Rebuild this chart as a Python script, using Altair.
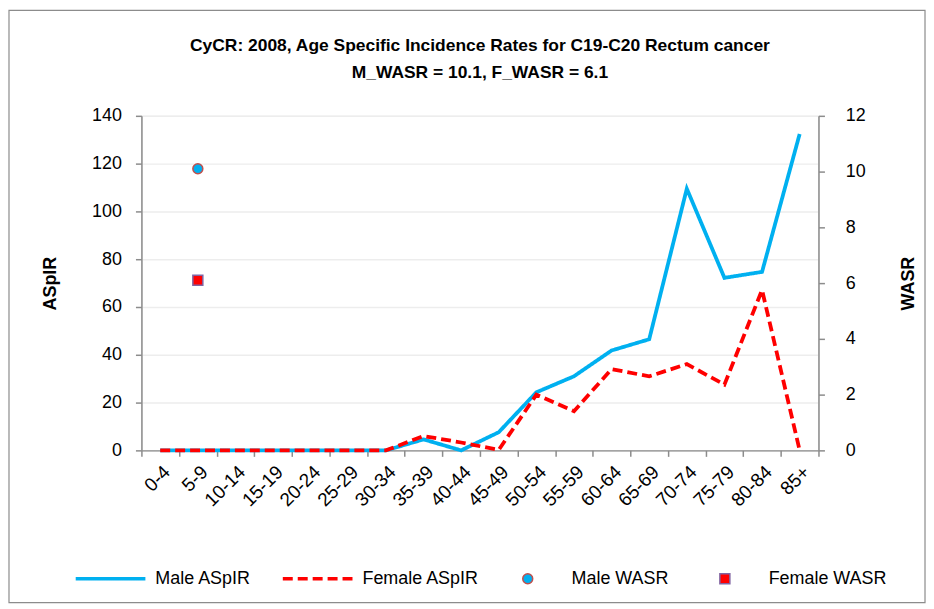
import altair as alt
import pandas as pd

ages = ["0-4", "5-9", "10-14", "15-19", "20-24", "25-29", "30-34", "35-39", "40-44",
        "45-49", "50-54", "55-59", "60-64", "65-69", "70-74", "75-79", "80-84", "85+"]
male_aspir = [0, 0, 0, 0, 0, 0, 0, 4.6, 0, 7.6, 24.3, 31.0, 41.8, 46.5, 109.5, 72.2, 74.7, 132.4]
female_aspir = [0, 0, 0, 0, 0, 0, 0, 6.0, 3.3, 0.2, 23.3, 16.4, 34.0, 31.0, 36.1, 27.5, 67.1, 0]
wasr_series = ["Male WASR", "Female WASR"]
wasr_values = [10.1, 6.1]
wasr_age = "5-9"

line_domain = ["Male ASpIR", "Female ASpIR"]

male_df = pd.DataFrame({"age": ages, "value": male_aspir, "series": "Male ASpIR"})
female_df = pd.DataFrame({"age": ages, "value": female_aspir, "series": "Female ASpIR"})
pts_df = pd.DataFrame({"age": [wasr_age] * 2, "value": wasr_values, "wseries": wasr_series})

FONT = "Liberation Sans"

x_enc = alt.X("age:N", sort=ages, title=None,
              scale=alt.Scale(type="band", domain=ages, paddingInner=0, paddingOuter=0),
              axis=alt.Axis(labelAngle=-45, labelFontSize=19, labelFont=FONT, labelColor="#000000",
                            tickBand="extent", domainColor="#8C8C8C", domainWidth=1.5,
                            tickColor="#8C8C8C", tickWidth=1.5, tickSize=6, labelPadding=6,
                            grid=False))

y_left = alt.Y("value:Q", title="ASpIR",
               scale=alt.Scale(domain=[0, 140], nice=False),
               axis=alt.Axis(values=list(range(0, 141, 20)), orient="left", labelFontSize=18,
                             labelFont=FONT, labelColor="#000000", titleFont=FONT,
                             titleFontSize=18, titleFontWeight="bold", titleColor="#000000",
                             titlePadding=32, domainColor="#8C8C8C", domainWidth=1.5,
                             tickColor="#8C8C8C", tickWidth=1.5, tickSize=6, labelPadding=14,
                             grid=True, gridColor="#EDEDED", gridWidth=1.5))

color_scale = alt.Scale(domain=line_domain, range=["#00B0F0", "#FF0000"])
dash_scale = alt.Scale(domain=line_domain, range=[[1, 0], [10, 5]])
line_legend = alt.Legend(orient="none", legendX=-68, legendY=428, direction="horizontal",
                         title=None, symbolType="stroke", symbolSize=4900, symbolStrokeWidth=3.5,
                         labelFontSize=18, labelFont=FONT, labelColor="#000000",
                         labelOffset=8, columnPadding=24)

male_line = alt.Chart(male_df).mark_line(strokeWidth=3.8, strokeCap="butt").encode(
    x=x_enc, y=y_left,
    color=alt.Color("series:N", scale=color_scale, legend=line_legend),
    strokeDash=alt.StrokeDash("series:N", scale=dash_scale, legend=line_legend),
)
female_line = alt.Chart(female_df).mark_line(strokeWidth=3.8, strokeCap="butt").encode(
    x=x_enc, y=y_left,
    color=alt.Color("series:N", scale=color_scale, legend=line_legend),
    strokeDash=alt.StrokeDash("series:N", scale=dash_scale, legend=line_legend),
)

lines = alt.layer(male_line, female_line)

pt_legend = alt.Legend(orient="none", legendX=379, legendY=456, direction="horizontal",
                       title=None, symbolSize=100, symbolStrokeWidth=1.5,
                       labelFontSize=18, labelFont=FONT, labelColor="#000000",
                       labelOffset=35, columnPadding=47)

points = alt.Chart(pts_df).mark_point(filled=True, size=100, strokeWidth=1.5, opacity=1).encode(
    x=x_enc,
    y=alt.Y("value:Q", title="WASR",
            scale=alt.Scale(domain=[0, 12], nice=False),
            axis=alt.Axis(values=list(range(0, 13, 2)), orient="right", labelFontSize=18,
                          labelFont=FONT, labelColor="#000000", titleFont=FONT,
                          titleFontSize=18, titleFontWeight="bold", titleColor="#000000",
                          titleAngle=270, titlePadding=52, domainColor="#8C8C8C", domainWidth=1.5,
                          tickColor="#8C8C8C", tickWidth=1.5, tickSize=6, labelPadding=21,
                          grid=False)),
    fill=alt.Fill("wseries:N", scale=alt.Scale(domain=wasr_series, range=["#00B0F0", "#FF0000"]),
                  legend=pt_legend),
    stroke=alt.Stroke("wseries:N", scale=alt.Scale(domain=wasr_series, range=["#C0504D", "#8064A2"]),
                      legend=pt_legend),
    shape=alt.Shape("wseries:N", scale=alt.Scale(domain=wasr_series, range=["circle", "square"]),
                    legend=pt_legend),
)

border = alt.Chart(pd.DataFrame({"a": [0]})).mark_rect(
    filled=False, stroke="#8C8C8C", strokeWidth=1.2).encode(
    x=alt.value(-133), x2=alt.value(787), y=alt.value(-106), y2=alt.value(489))

chart = alt.layer(lines, points, border).resolve_scale(
    y="independent", color="independent", stroke="independent", fill="independent",
    shape="independent", strokeDash="independent"
).properties(
    width=680, height=336,
    autosize=alt.AutoSizeParams(type="none"),
    padding={"left": 134, "top": 107, "right": 108, "bottom": 155},
    title=alt.Title(
        ["CyCR: 2008, Age Specific Incidence Rates for C19-C20 Rectum cancer",
         "M_WASR = 10.1, F_WASR = 6.1"],
        font=FONT, fontSize=17.5, fontWeight="bold", color="#000000",
        anchor="middle", frame="group", lineHeight=27, offset=-72),
).configure_view(stroke=None).configure(background="#FFFFFF")

chart.save("out.html", embed_options={"renderer": "svg", "actions": False})
